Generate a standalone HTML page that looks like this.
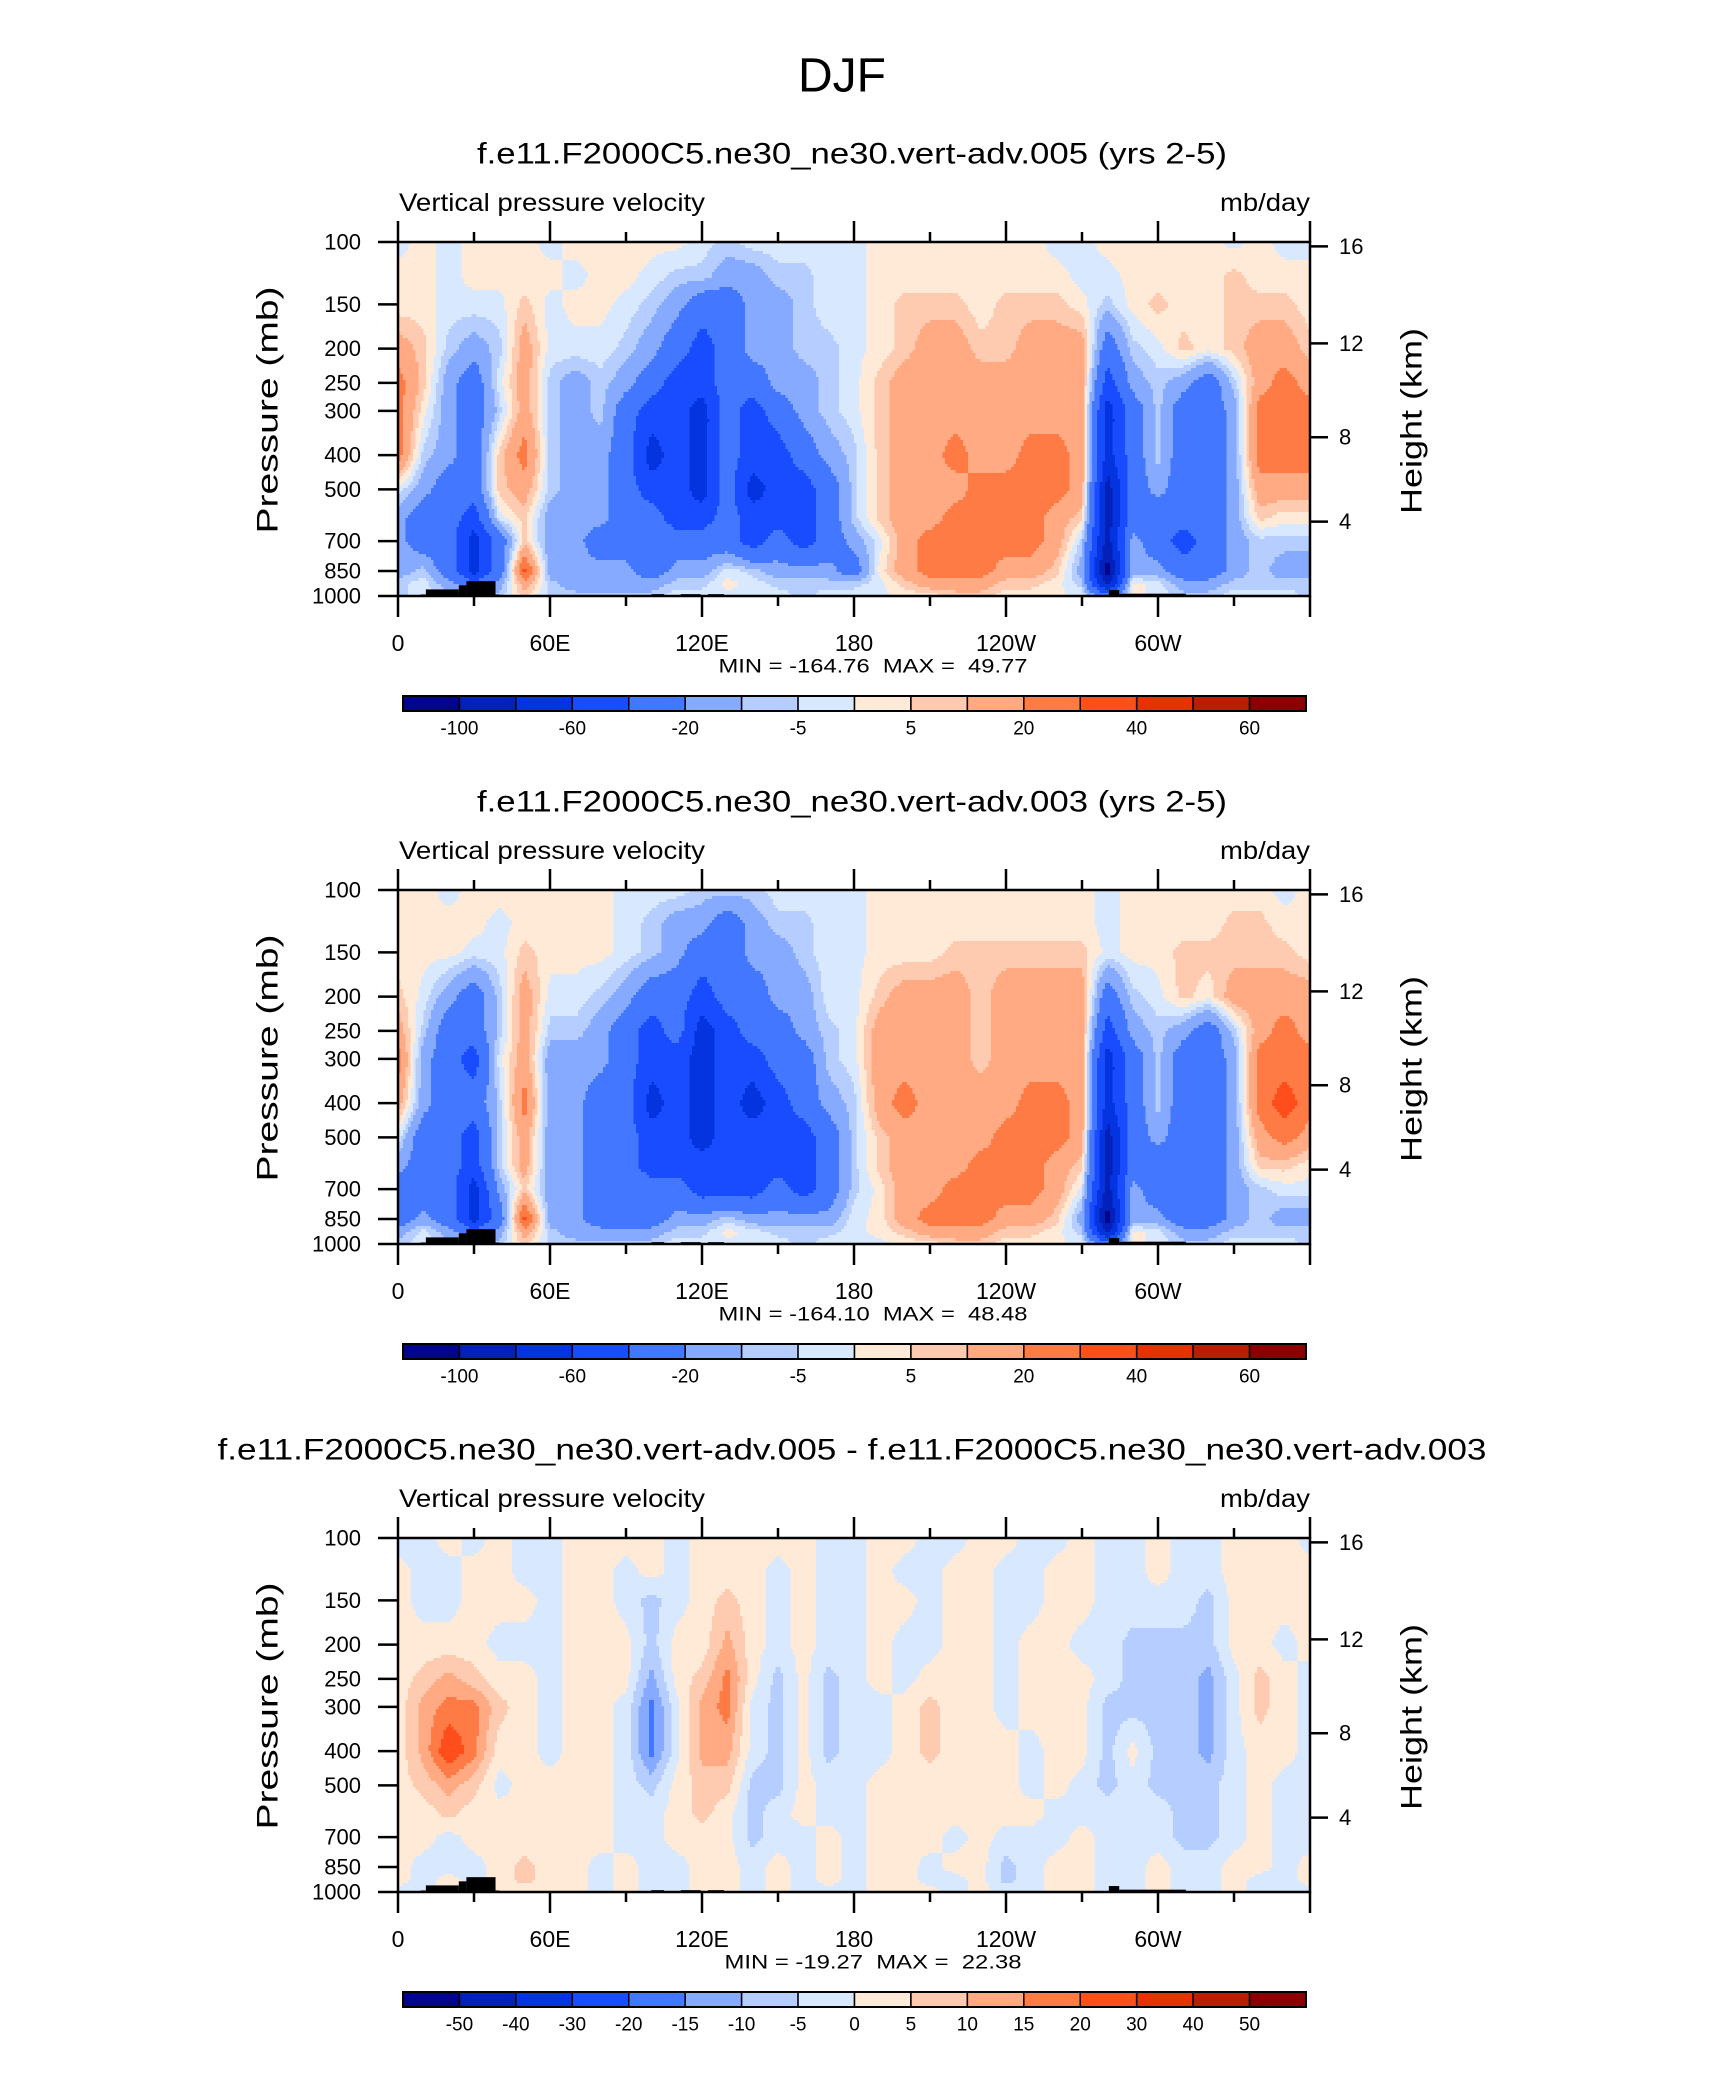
<!DOCTYPE html>
<html><head><meta charset="utf-8"><title>DJF Vertical pressure velocity</title>
<style>
html,body{margin:0;padding:0;background:#fff;}
svg{display:block;font-family:"Liberation Sans",Arial,sans-serif;}
text{white-space:pre;}
</style></head>
<body>
<svg id="fig" width="1710" height="2074" viewBox="0 0 1710 2074" xmlns="http://www.w3.org/2000/svg">
<rect x="0" y="0" width="1710" height="2074" fill="#fff"/>
<text x="842" y="76" font-size="48" text-anchor="middle" dominant-baseline="central">DJF</text>
</svg>
<script>
// ---------------- data ----------------
const lonCategories = [0,10,20,30,40,50,60,70,80,90,100,110,120,130,140,150,160,170,180,190,200,210,220,230,240,250,260,270,280,290,300,310,320,330,340,350,360];
const pressureLevels = [100,125,150,200,250,300,400,500,600,700,850,925,1000];
const omegaLevels = [-100,-80,-60,-40,-20,-10,-5,0,5,10,20,30,40,50,60];
const diffLevels = [-50,-40,-30,-20,-15,-10,-5,0,5,10,15,20,30,40,50];
const omegaTickLabels = ["-100","","-60","","-20","","-5","","5","","20","","40","","60"];
const diffTickLabels = ["-50","-40","-30","-20","-15","-10","-5","0","5","10","15","20","30","40","50"];
const xTickLabels = ["0","60E","120E","180","120W","60W"];
const xTickLons = [0,60,120,180,240,300];
const pressureTicks = [100,150,200,250,300,400,500,700,850,1000];
const heightTicks = [4,8,12,16];
const topoSegments = [[9,11,990],[11,24,958],[24,27,933],[27,38.5,908],[38.5,40,990],[100,105,988],[111.6,119.5,988],[122.4,128.7,988],[280.6,284.7,962],[284.7,311,985]];

const omega005 = [
[-2,2,-2,2,2,2,-2,2,2,2,2,2,-2,-7,-2,-2,-2,-2,-2,2,2,2,2,2,2,2,-2,-2,2,2,2,2,2,-2,2,-2,-2],
[2,2,-2,2,2,2,2,-2,2,2,-2,-7,-7,-15,-15,-7,-7,-2,-2,2,2,2,2,2,2,2,2,-2,-2,2,2,2,2,7,2,2,2],
[2,2,-2,-2,-2,7,-2,2,2,-2,-7,-15,-30,-30,-15,-15,-7,-2,-2,2,7,7,7,2,7,7,7,2,-7,2,7,2,2,7,7,7,2],
[15,7,-7,-15,-7,15,-2,-2,-2,-7,-15,-30,-50,-30,-15,-15,-7,-7,-2,2,7,15,15,7,7,15,15,15,-30,-7,-2,7,2,7,15,15,7],
[25,7,-15,-30,-2,15,-7,-15,-7,-15,-30,-50,-50,-30,-30,-15,-15,-7,-2,7,15,15,15,15,15,15,15,15,-50,-15,-7,-15,-30,-7,15,25,15],
[25,2,-15,-30,-7,15,-7,-15,-7,-30,-50,-50,-70,-30,-50,-30,-15,-7,-2,7,15,15,15,15,15,15,15,15,-70,-30,-7,-30,-30,-15,25,25,25],
[25,-7,-15,-30,7,25,-7,-15,-15,-30,-70,-50,-70,-30,-50,-50,-30,-15,-7,7,15,15,25,15,15,25,25,15,-70,-30,-7,-30,-30,-15,25,25,25],
[-2,-15,-30,-30,7,15,-7,-15,-15,-30,-50,-50,-70,-30,-70,-50,-50,-30,-7,7,15,15,15,25,25,25,25,15,-90,-30,-15,-30,-30,-15,15,15,15],
[-15,-30,-30,-50,-2,7,-15,-15,-15,-30,-30,-50,-50,-30,-50,-50,-50,-30,-7,7,15,15,25,25,25,25,15,7,-90,-30,-30,-30,-30,-15,7,2,2],
[-15,-30,-30,-70,-30,7,-15,-15,-30,-30,-30,-30,-30,-30,-50,-30,-50,-30,-15,-2,15,25,25,25,25,25,15,-7,-90,-15,-30,-50,-30,-15,-7,-7,-7],
[-15,-7,-30,-70,-30,35,-15,-15,-15,-15,-30,-15,-15,-2,-7,-15,-15,-15,-30,2,15,25,25,25,15,15,7,-15,-110,-15,-15,-30,-30,-15,-7,-15,-15],
[-7,-2,-15,-30,-15,15,-7,-15,-15,-15,-15,-7,-7,2,-2,-7,-7,-7,-7,-2,7,15,15,15,7,7,2,-7,-90,2,-2,-15,-15,-7,-7,-7,-7],
[-7,-2,-7,-15,-7,7,-7,-7,-7,-7,-7,-2,-2,-2,-2,-2,-7,-2,-2,-2,2,2,7,7,2,2,2,-2,-30,2,-2,-7,-7,-2,-2,-2,-7]
];
const omega003 = [
[2,2,-2,2,2,2,2,2,2,-2,-2,-2,-7,-7,-7,-2,-2,-2,-2,2,2,2,2,2,2,2,2,2,-2,2,2,2,2,2,2,-2,2],
[2,2,2,2,-2,2,2,2,2,-2,-7,-15,-15,-30,-15,-7,-7,-2,-2,2,2,2,2,2,2,2,2,2,-2,2,2,2,2,7,7,2,2],
[2,2,2,-2,-2,7,2,2,2,-2,-7,-15,-30,-30,-15,-15,-7,-2,-2,2,2,2,7,7,7,7,7,7,-2,2,2,7,7,7,7,7,2],
[7,-2,-15,-30,-7,15,-2,-2,-7,-15,-30,-30,-50,-30,-30,-15,-15,-2,-2,7,15,15,15,7,15,15,15,15,-30,-7,-2,7,2,15,15,15,15],
[15,-7,-30,-30,-7,15,-7,-7,-15,-30,-50,-30,-70,-50,-30,-30,-15,-7,-2,15,15,15,15,7,15,15,15,15,-50,-15,-7,-15,-30,-7,15,25,15],
[25,-15,-30,-50,-2,15,-15,-15,-15,-30,-50,-50,-70,-50,-50,-30,-30,-7,-2,15,15,15,15,7,15,15,15,15,-70,-30,-7,-30,-30,-15,25,25,25],
[15,-15,-30,-30,-7,25,-15,-15,-30,-30,-70,-50,-70,-50,-70,-50,-30,-15,-7,15,25,15,15,15,15,25,25,15,-70,-30,-7,-30,-30,-15,25,35,25],
[-2,-30,-30,-50,-7,15,-15,-15,-30,-30,-50,-50,-70,-50,-50,-50,-50,-30,-7,7,15,15,15,15,25,25,25,15,-90,-30,-15,-30,-30,-15,15,25,15],
[-15,-30,-30,-50,-7,15,-15,-15,-30,-30,-50,-50,-50,-50,-50,-50,-50,-30,-7,7,15,15,15,25,25,25,15,7,-90,-30,-30,-30,-30,-15,7,7,2],
[-30,-30,-30,-70,-15,7,-15,-15,-30,-30,-30,-30,-50,-50,-50,-30,-50,-30,-7,2,15,15,25,25,25,25,15,-2,-90,-15,-30,-30,-30,-15,-7,-2,-2],
[-30,-15,-30,-70,-30,35,-15,-15,-30,-30,-30,-15,-15,-7,-15,-15,-15,-15,-2,2,15,25,25,25,15,15,7,-15,-110,-15,-15,-30,-30,-15,-7,-15,-15],
[-15,-2,-15,-30,-15,15,-7,-15,-15,-15,-15,-7,-7,2,-2,-7,-7,-7,-2,2,7,15,15,15,7,7,2,-7,-90,2,-2,-15,-15,-7,-7,-7,-7],
[-7,-2,-7,-15,-7,7,-7,-7,-7,-7,-7,-2,-2,-2,-2,-2,-7,-2,-2,-2,2,2,7,7,2,2,2,-2,-30,2,-2,-7,-7,-2,-2,-2,-7]
];
const omegaDiff = [
[-2,-2,2,-2,2,-2,-2,2,2,2,2,-2,2,2,2,2,2,-2,-2,2,2,-2,-2,2,2,-2,-2,2,-2,-2,2,-2,-2,2,2,2,-2],
[2,-2,-2,2,2,-2,-2,2,2,-2,2,-2,2,2,2,-2,2,-2,-2,2,-2,-2,2,2,-2,-2,2,2,-2,-2,2,-2,-2,2,2,2,2],
[2,-2,-2,2,2,2,-2,2,2,-2,-7,-2,2,7,2,-2,2,-2,-2,2,2,-2,2,2,-2,-2,2,2,-2,-2,-2,-2,-7,2,2,2,2],
[2,2,2,2,-2,-2,-2,2,2,2,-7,2,2,12,2,-2,2,-2,-2,2,-2,-2,2,2,-2,2,2,-2,-2,-7,-7,-7,-7,2,2,-2,2],
[2,7,12,7,2,2,-2,2,2,2,-12,2,7,17,2,-7,2,-7,-2,2,-2,2,2,2,-2,2,2,2,-2,-7,-7,-7,-12,-2,7,2,-2],
[2,12,17,17,7,2,-2,2,2,-2,-17,-2,12,17,-2,-7,2,-7,-2,-2,2,7,2,2,-2,2,2,2,-7,-7,-7,-7,-12,-2,7,2,-2],
[2,12,25,17,2,2,-2,2,2,-2,-17,-2,12,12,-2,-7,2,-7,-2,-2,2,7,2,2,2,-2,2,2,-7,2,-7,-7,-12,-2,2,2,-2],
[2,7,12,7,-2,2,2,2,2,-2,-7,2,7,7,-7,-7,2,-2,-2,2,2,2,2,2,2,-2,2,-2,-7,-2,-7,-7,-7,-2,2,-2,-2],
[2,2,7,2,2,2,2,2,2,-2,-2,2,7,2,-7,-2,2,-2,-2,2,2,2,2,2,2,2,-2,-2,-2,-2,-2,-7,-7,-2,2,-2,-2],
[2,2,-2,2,2,2,2,2,2,-2,-2,2,2,2,-7,-2,-2,2,-2,2,2,2,-2,2,-2,-2,-2,2,-2,-2,-2,-7,-7,-2,2,-2,-2],
[2,-2,-2,-2,2,7,2,2,-2,2,-2,-2,2,2,-2,2,-2,2,-2,2,2,-2,2,2,-7,-2,2,2,-2,-2,2,-2,-2,2,2,-2,2],
[2,-2,2,-2,2,7,2,2,-2,2,-2,-2,2,2,-2,2,-2,2,-2,2,2,-2,-2,2,-7,-2,2,2,-2,-2,2,-2,-2,2,-2,-2,2],
[-2,-2,2,-2,2,2,2,2,-2,2,-2,-2,2,2,-2,2,-2,-2,-2,2,2,2,-2,2,-2,-2,2,2,-2,-2,2,-2,-2,2,-2,-2,-2]
];
const panelTitles = ["f.e11.F2000C5.ne30_ne30.vert-adv.005 (yrs 2-5)","f.e11.F2000C5.ne30_ne30.vert-adv.003 (yrs 2-5)","f.e11.F2000C5.ne30_ne30.vert-adv.005 - f.e11.F2000C5.ne30_ne30.vert-adv.003"];
const minMaxTexts = ["MIN = -164.76  MAX =  49.77","MIN = -164.10  MAX =  48.48","MIN = -19.27  MAX =  22.38"];

// ---------------- styling / layout ----------------
const palette = ["#03058c","#0320b8","#0433e0","#1a4cff","#4477ff","#85aaff","#b5cdff","#d8e9ff","#ffead8","#ffcbb0","#ffaa83","#ff7b45","#ff4e1c","#e53200","#b81e00","#8b0000"];
const NS = "http://www.w3.org/2000/svg";
const svg = document.getElementById('fig');
const PL = 398, PW = 912, PH = 354;

function mk(tag, attrs, parent){
  const e = document.createElementNS(NS, tag);
  for (const k in attrs) e.setAttribute(k, attrs[k]);
  (parent || svg).appendChild(e);
  return e;
}
function xScale(lon){ return PL + lon / 360 * PW; }
function yScale(p, top){ return top + Math.log10(p / 100) * PH; }
function pFromY(y, top){ return 100 * Math.pow(10, (y - top) / PH); }
function isaPressure(zkm){
  const z = zkm * 1000;
  if (z <= 11000) return 1013.25 * Math.pow(1 - 0.0065 * z / 288.15, 5.2559);
  return 226.32 * Math.exp(-(z - 11000) / 6341.6);
}
function binIndex(v, levels){ let i = 0; while (i < levels.length && v >= levels[i]) i++; return i; }
function valueAt(grid, lon, p){
  let i = Math.min(Math.floor(lon / 10), lonCategories.length - 2);
  const u = (lon - lonCategories[i]) / 10;
  const lp = Math.log(p);
  let k = 0;
  while (k < pressureLevels.length - 2 && p > pressureLevels[k + 1]) k++;
  let t = (lp - Math.log(pressureLevels[k])) / (Math.log(pressureLevels[k + 1]) - Math.log(pressureLevels[k]));
  t = Math.max(0, Math.min(1, t));
  const a = grid[k][i], b = grid[k][i + 1], c = grid[k + 1][i], d = grid[k + 1][i + 1];
  return (a * (1 - u) + b * u) * (1 - t) + (c * (1 - u) + d * u) * t;
}

function drawPanel(idx, top, grid, levels, tickLabels){
  const g = mk('g', {});
  
  
  const bottom = top + PH;

  const tt = mk('text', {x: 852, y: top - 88, 'font-size': 30, 'text-anchor': 'middle', 'dominant-baseline': 'central', textLength: idx === 2 ? 1269 : 750, lengthAdjust: 'spacingAndGlyphs'}, g);
  tt.textContent = panelTitles[idx];
  
  
  const vl = mk('text', {x: 399, y: top - 39, 'font-size': 25, 'dominant-baseline': 'central', textLength: 306, lengthAdjust: 'spacingAndGlyphs'}, g);
  vl.textContent = 'Vertical pressure velocity';
  
  
  const ul = mk('text', {x: PL + PW - 90, y: top - 39, 'font-size': 25, 'dominant-baseline': 'central', textLength: 90, lengthAdjust: 'spacingAndGlyphs'}, g);
  ul.textContent = 'mb/day';
  
  

  const fill = mk('g', {'shape-rendering': 'crispEdges'}, g);
  
  
  const dy = 3, dl = 1;
  for (let y = top; y < bottom; y += dy) {
    const h = Math.min(dy, bottom - y);
    const p = pFromY(y + h / 2, top);
    let runStart = 0, runBin = -1;
    for (let lon = 0; lon <= 360; lon += dl) {
      let b = -2;
      if (lon < 360) b = binIndex(valueAt(grid, lon + dl / 2, p), levels);
      if (b !== runBin) {
        if (runBin >= 0) {
          const x0 = xScale(runStart), x1 = xScale(lon);
          const r = mk('rect', {x: x0.toFixed(2), y: y, width: (x1 - x0 + 0.6).toFixed(2), height: h + 0.6, fill: palette[runBin]}, fill);
          
          
        }
        runBin = b; runStart = lon;
      }
    }
  }
  topoSegments.forEach(s => {
    const x0 = xScale(s[0]), x1 = xScale(s[1]), y0 = yScale(s[2], top);
    const r = mk('rect', {x: x0, y: y0, width: x1 - x0, height: bottom - y0, fill: '#000'}, g);
    
    
  });

  const fr = mk('rect', {x: PL, y: top, width: PW, height: PH, fill: 'none', stroke: '#000', 'stroke-width': 2.5}, g);
  
  

  for (let lon = 0; lon <= 360; lon += 30) {
    const x = xScale(lon), major = lon % 60 === 0;
    const len = major ? 21 : 10;
    const t1 = mk('line', {x1: x, x2: x, y1: top, y2: top - len, stroke: '#000', 'stroke-width': 2.5}, g);
    
    
    const t2 = mk('line', {x1: x, x2: x, y1: bottom, y2: bottom + len, stroke: '#000', 'stroke-width': 2.5}, g);
    
    
  }
  xTickLons.forEach((lon, i) => {
    const t = mk('text', {x: xScale(lon), y: bottom + 47, 'font-size': 23, 'text-anchor': 'middle', 'dominant-baseline': 'central'}, g);
    t.textContent = xTickLabels[i];
    
    
  });
  pressureTicks.forEach(p => {
    const y = yScale(p, top);
    const l = mk('line', {x1: PL - 20, x2: PL, y1: y, y2: y, stroke: '#000', 'stroke-width': 2.5}, g);
    
    
    const t = mk('text', {x: 361, y: y, 'font-size': 22, 'text-anchor': 'end', 'dominant-baseline': 'central'}, g);
    t.textContent = String(p);
    
    
  });
  const yt = mk('text', {x: 0, y: 0, 'font-size': 30, 'text-anchor': 'middle', 'dominant-baseline': 'central', textLength: 247, lengthAdjust: 'spacingAndGlyphs', transform: 'translate(268,' + (top + 168) + ') rotate(-90)'}, g);
  yt.textContent = 'Pressure (mb)';
  
  
  heightTicks.forEach(z => {
    const y = yScale(isaPressure(z), top);
    const l = mk('line', {x1: PL + PW, x2: PL + PW + 18, y1: y, y2: y, stroke: '#000', 'stroke-width': 2.5}, g);
    
    
    const t = mk('text', {x: PL + PW + 29, y: y, 'font-size': 22, 'dominant-baseline': 'central'}, g);
    t.textContent = String(z);
    
    
  });
  const ht = mk('text', {x: 0, y: 0, 'font-size': 30, 'text-anchor': 'middle', 'dominant-baseline': 'central', textLength: 186, lengthAdjust: 'spacingAndGlyphs', transform: 'translate(1412,' + (top + 179) + ') rotate(-90)'}, g);
  ht.textContent = 'Height (km)';
  
  

  const mm = mk('text', {x: 873, y: bottom + 71, 'font-size': 19, 'text-anchor': 'middle', 'dominant-baseline': 'central', textLength: idx === 2 ? 297 : 309, lengthAdjust: 'spacingAndGlyphs'}, g);
  mm.textContent = minMaxTexts[idx];
  
  

  const cb = mk('g', {}, g);
  
  
  const cbL = 403, cbR = 1306, cbT = bottom + 100, cbH = 15, bw = (cbR - cbL) / 16;
  for (let i = 0; i < 16; i++) {
    const r = mk('rect', {x: cbL + i * bw, y: cbT, width: bw, height: cbH, fill: palette[i], stroke: '#000', 'stroke-width': 1.5}, cb);
    
    
  }
  const ob = mk('rect', {x: cbL, y: cbT, width: cbR - cbL, height: cbH, fill: 'none', stroke: '#000', 'stroke-width': 2}, cb);
  
  
  tickLabels.forEach((lab, i) => {
    if (!lab) return;
    const t = mk('text', {x: cbL + (i + 1) * bw, y: bottom + 133, 'font-size': 19, 'text-anchor': 'middle', 'dominant-baseline': 'central'}, cb);
    t.textContent = lab;
    
    
  });
}

drawPanel(0, 242, omega005, omegaLevels, omegaTickLabels);
drawPanel(1, 890, omega003, omegaLevels, omegaTickLabels);
drawPanel(2, 1538, omegaDiff, diffLevels, diffTickLabels);
</script>
</body></html>
